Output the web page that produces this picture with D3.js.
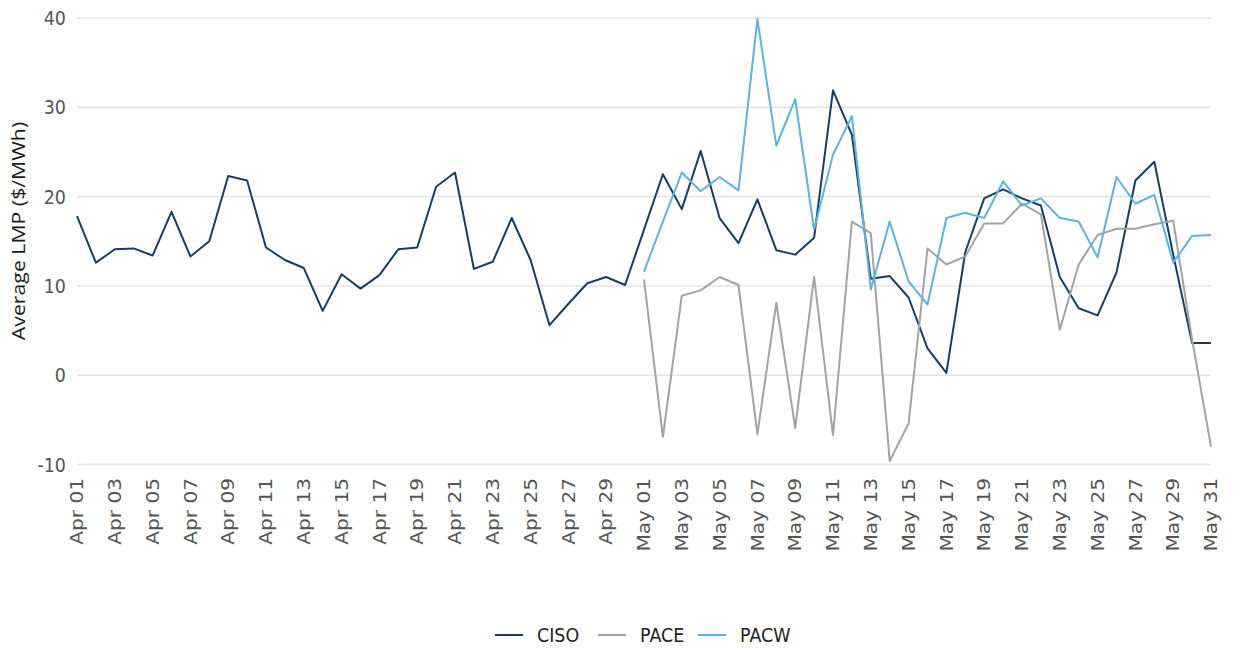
<!DOCTYPE html>
<html>
<head>
<meta charset="utf-8">
<script src="https://cdn.jsdelivr.net/npm/d3@7"></script>
<style>
  html, body { margin: 0; padding: 0; background: #fff; }
  svg { display: block; }
  text { font-family: "DejaVu Sans", sans-serif; }
</style>
</head>
<body>
<svg id="chart" width="1239" height="648"></svg>
<script>
// ---- data ----
const startDate = "2023-04-01";
const endDate = "2023-05-31";
const seriesNames = ["CISO", "PACE", "PACW"];
const seriesColors = ["#173c68", "#a3a3a3", "#5ab3e4"];
const cisoValues = [
  17.8, 12.6, 14.1, 14.2, 13.4, 18.3, 13.3, 15.0, 22.3, 21.8,
  14.3, 12.9, 12.0, 7.2, 11.3, 9.7, 11.2, 14.1, 14.3, 21.1,
  22.7, 11.9, 12.7, 17.6, 12.9, 5.6, 8.0, 10.3, 11.0, 10.1,
  16.3, 22.5, 18.6, 25.1, 17.6, 14.8, 19.7, 14.0, 13.5, 15.4,
  31.9, 26.9, 10.8, 11.1, 8.7, 3.0, 0.25, 13.8, 19.8, 20.8,
  19.8, 19.0, 11.0, 7.5, 6.7, 11.5, 21.8, 23.9, 13.5, 3.6, 3.6
];
const paceMay = [
  10.7, -6.9, 8.9, 9.5, 11.0, 10.1, -6.6, 8.1, -5.9, 11.0,
  -6.7, 17.2, 15.9, -9.6, -5.4, 14.2, 12.4, 13.3, 17.0, 17.0,
  19.2, 18.0, 5.1, 12.4, 15.7, 16.4, 16.4, 16.9, 17.3, 4.0, -8.0
];
const pacwMay = [
  11.6, 17.2, 22.7, 20.6, 22.2, 20.7, 39.9, 25.7, 30.9, 16.3,
  24.7, 29.0, 9.6, 17.2, 10.5, 7.9, 17.6, 18.2, 17.6, 21.7,
  19.0, 19.8, 17.6, 17.2, 13.2, 22.2, 19.2, 20.2, 12.6, 15.6, 15.7
];
const yTicks = [-10, 0, 10, 20, 30, 40];
const yTitle = "Average LMP ($/MWh)";

// ---- build ----
const parse = d3.utcParse("%Y-%m-%d");
const dates = d3.utcDay.range(parse(startDate), d3.utcDay.offset(parse(endDate), 1));
const aprCount = dates.length - paceMay.length;
const pad = Array(aprCount).fill(null);
const allSeries = [cisoValues, pad.concat(paceMay), pad.concat(pacwMay)];
const xTickDates = dates.filter(d => d.getUTCDate() % 2 === 1);

const svg = d3.select("#chart");
const x = d3.scaleUtc().domain([dates[0], dates[dates.length - 1]]).range([77, 1211]);
const y = d3.scaleLinear().domain([-10, 40]).range([464.5, 18]);
const SY = 1.15; // vertical text stretch
const fs = 17.5;

// grid
svg.append("g").selectAll("line").data(yTicks).join("line")
  .attr("x1", x.range()[0]).attr("x2", x.range()[1])
  .attr("y1", d => y(d)).attr("y2", d => y(d))
  .attr("stroke", "#e4e4e4").attr("stroke-width", 1.5);

// y axis labels
svg.append("g").selectAll("text").data(yTicks).join("text")
  .attr("transform", d => `translate(66,${y(d)}) scale(1,${SY})`)
  .attr("text-anchor", "end").attr("dy", "0.35em")
  .attr("font-size", fs).attr("fill", "#555")
  .text(d => String(d));

// y title
svg.append("text")
  .attr("transform", `translate(25,231) scale(1,${SY}) rotate(-90)`)
  .attr("text-anchor", "middle")
  .attr("font-size", 18.5).attr("fill", "#1a1a1a")
  .style("font-family", "'Open Sans', sans-serif")
  .text(yTitle);

// x labels
const fmt = d3.utcFormat("%b %d");
svg.append("g").selectAll("text").data(xTickDates).join("text")
  .attr("transform", d => `translate(${x(d)},478) scale(1,${SY}) rotate(-90)`)
  .attr("text-anchor", "end").attr("dy", "0.35em")
  .attr("font-size", fs).attr("fill", "#555")
  .text(d => fmt(d));

// lines
const line = d3.line()
  .defined(d => d.v !== null)
  .x(d => x(d.date)).y(d => y(d.v));
allSeries.forEach((vals, i) => {
  const pts = dates.map((date, j) => ({ date, v: vals[j] }));
  svg.append("path").datum(pts)
    .attr("d", line)
    .attr("fill", "none")
    .attr("stroke", seriesColors[i])
    .attr("stroke-width", 2)
    .attr("stroke-linejoin", "round");
});

// legend
const legendX = [495, 598, 698];
const leg = svg.append("g");
seriesNames.forEach((name, i) => {
  leg.append("line")
    .attr("x1", legendX[i]).attr("x2", legendX[i] + 28)
    .attr("y1", 635).attr("y2", 635)
    .attr("stroke", seriesColors[i]).attr("stroke-width", 2);
  leg.append("text")
    .attr("transform", `translate(${legendX[i] + 42},635) scale(1,${SY})`)
    .attr("dy", "0.35em")
    .attr("font-size", fs).attr("fill", "#222")
    .text(name);
});
</script>
</body>
</html>
